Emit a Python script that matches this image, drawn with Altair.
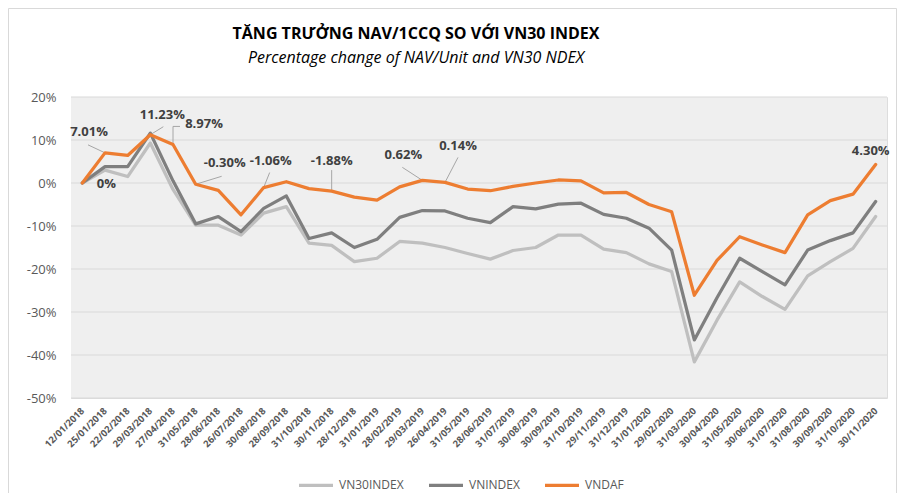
import altair as alt
import pandas as pd

# ---------------- data ----------------
dates = ["12/01/2018", "25/01/2018", "22/02/2018", "29/03/2018", "27/04/2018", "31/05/2018",
         "28/06/2018", "26/07/2018", "30/08/2018", "28/09/2018", "31/10/2018", "30/11/2018",
         "28/12/2018", "31/01/2019", "28/02/2019", "29/03/2019", "26/04/2019", "31/05/2019",
         "28/06/2019", "31/07/2019", "30/08/2019", "30/09/2019", "31/10/2019", "29/11/2019",
         "31/12/2019", "31/01/2020", "29/02/2020", "31/03/2020", "30/04/2020", "31/05/2020",
         "30/06/2020", "31/07/2020", "31/08/2020", "30/09/2020", "31/10/2020", "30/11/2020"]

vn30index = [0, 3.0, 1.5, 9.3, -1.5, -9.8, -9.8, -12.1, -7.0, -5.5, -14.0, -14.5,
             -18.3, -17.5, -13.6, -14.0, -15.0, -16.4, -17.7, -15.7, -15.0, -12.1, -12.1, -15.4,
             -16.2, -18.8, -20.6, -41.6, -31.9, -23.0, -26.4, -29.4, -21.6, -18.3, -15.2, -7.8]

vnindex = [0, 3.8, 3.8, 11.6, 0.5, -9.5, -7.8, -11.3, -5.9, -3.0, -12.9, -11.6,
           -15.0, -13.1, -8.0, -6.4, -6.5, -8.2, -9.2, -5.5, -6.0, -4.9, -4.7, -7.3,
           -8.2, -10.5, -15.6, -36.5, -26.7, -17.5, -20.6, -23.7, -15.6, -13.4, -11.6, -4.3]

vndaf = [0, 7.01, 6.4, 11.23, 8.97, -0.30, -1.7, -7.4, -1.06, 0.3, -1.3, -1.88,
         -3.3, -4.0, -0.9, 0.62, 0.14, -1.4, -1.8, -0.8, 0.0, 0.7, 0.5, -2.3,
         -2.2, -5.0, -6.7, -26.1, -18.0, -12.5, -14.4, -16.2, -7.4, -4.1, -2.6, 4.30]

series_names = ["VN30INDEX", "VNINDEX", "VNDAF"]
series_colors = ["#bfbfbf", "#7f7f7f", "#ed7d31"]
series_widths = [3.25, 3.25, 4]

label_idx = [0, 1, 3, 4, 5, 8, 11, 15, 16, 35]
label_txt = ["0%", "7.01%", "11.23%", "8.97%", "-0.30%", "-1.06%", "-1.88%", "0.62%", "0.14%", "4.30%"]

y_ticks = [20, 10, 0, -10, -20, -30, -40, -50]

title_text = "TĂNG TRƯỞNG NAV/1CCQ SO VỚI VN30 INDEX"
subtitle_text = "Percentage change of NAV/Unit and VN30 NDEX"

# ---------------- style ----------------
W, H = 816, 301
n = len(dates)
YMIN, YMAX = -50, 20
PX_X = W / n
PX_Y = H / (YMAX - YMIN)
FONT = "Open Sans"

LABEL_OFFSET = {0: (24, 1), 1: (-16, -21), 3: (12, -20), 4: (31, -20), 5: (29, -21),
                8: (7, -27), 11: (0, -30), 15: (-19, -25), 16: (13, -36), 35: (-5, -14)}
LEADERS = {1: [(0, 0, -17, -8)], 3: [(0, 0, 13, -8)], 4: [(0, 0, 0, -18), (0, -18, 7, -18)],
           5: [(0, 0, 26, -8)], 8: [(0, 0, 6, -15)], 11: [(0, 0, 0, -21)],
           15: [(0, 0, -20, -13)], 16: [(0, 0, 13, -25)]}

# ---------------- frames ----------------
rows = []
for s, vals in zip(series_names, [vn30index, vnindex, vndaf]):
    for i, (d, v) in enumerate(zip(dates, vals)):
        rows.append({"idx": i, "date": d, "series": s, "value": v})
df = pd.DataFrame(rows)

xscale = alt.Scale(domain=[-0.5, n - 0.5], nice=False, zero=False)
yscale = alt.Scale(domain=[YMIN, YMAX], nice=False, zero=False)

label_expr = "[" + ",".join("'" + d + "'" for d in dates) + "][datum.value]"

x_axis = alt.Axis(values=list(range(n)), labelExpr=label_expr, labelAngle=-45,
                  labelAlign="right", labelBaseline="middle", labelPadding=11,
                  labelFontSize=9.5, labelFontWeight="bold", labelColor="#595959",
                  labelFont=FONT, labelOverlap=False, labelFlush=False,
                  grid=False, ticks=False, domain=False, title=None)
y_axis = alt.Axis(values=y_ticks, labelExpr="datum.value + '%'", labelFontSize=13,
                  labelColor="#595959", labelFont=FONT, labelPadding=15,
                  grid=False, ticks=False, domain=False, title=None)


def X(field):
    return alt.X(field, scale=xscale, axis=x_axis, title=None)


def Y(field):
    return alt.Y(field, scale=yscale, axis=y_axis, title=None)


one = pd.DataFrame({"x0": [-0.5], "x1": [n - 0.5], "y0": [YMIN], "y1": [YMAX]})

frame = alt.Chart(one).mark_rect(filled=False, stroke="#d9d9d9", strokeWidth=1).encode(
    x=alt.value(-62.5), x2=alt.value(825.5), y=alt.value(-88.5), y2=alt.value(430))

background = alt.Chart(one).mark_rect(fill="#efefef").encode(
    x=X("x0:Q"), x2="x1:Q", y=Y("y0:Q"), y2="y1:Q")

grid_df = pd.DataFrame({"y": y_ticks, "x0": -0.5, "x1": n - 0.5})
grid = alt.Chart(grid_df).mark_rule(color="#d9d9d9", strokeWidth=1).encode(
    x=X("x0:Q"), x2="x1:Q", y=Y("y:Q"))

lead_rows = []
for i, segs in LEADERS.items():
    for (ax, ay, bx, by) in segs:
        lead_rows.append({"x": i + ax / PX_X, "y": vndaf[i] - ay / PX_Y,
                          "x2": i + bx / PX_X, "y2": vndaf[i] - by / PX_Y})
leaders = alt.Chart(pd.DataFrame(lead_rows)).mark_rule(color="#a6a6a6", strokeWidth=1).encode(
    x=X("x:Q"), x2="x2:Q", y=Y("y:Q"), y2="y2:Q")

lines = alt.Chart(df).mark_line(strokeJoin="round", strokeCap="round").encode(
    x=X("idx:Q"),
    y=Y("value:Q"),
    color=alt.Color("series:N", scale=alt.Scale(domain=series_names, range=series_colors),
                    sort=series_names, title=None,
                    legend=alt.Legend(orient="none", legendX=226, legendY=369, direction="horizontal",
                                      symbolType="stroke", symbolSize=1156, symbolStrokeWidth=4,
                                      labelFont=FONT, labelFontSize=12, labelColor="#595959",
                                      columnPadding=18, labelOffset=4)),
    strokeWidth=alt.StrokeWidth("series:N", scale=alt.Scale(domain=series_names, range=series_widths),
                                legend=None),
    detail="series:N",
)

lab_df = pd.DataFrame({"idx": label_idx, "value": [vndaf[i] for i in label_idx], "text": label_txt})
label_layers = []
for i, t in zip(label_idx, label_txt):
    dx, dy = LABEL_OFFSET[i]
    label_layers.append(
        alt.Chart(lab_df).transform_filter(alt.datum.idx == i).mark_text(
            dx=dx, dy=dy, font=FONT, fontSize=13, fontWeight="bold", color="#404040",
            align="center", baseline="middle").encode(
            x=X("idx:Q"), y=Y("value:Q"), text="text:N"))

title_df = pd.DataFrame({"t": [title_text], "s": [subtitle_text]})
title_mark = alt.Chart(title_df).mark_text(font=FONT, fontSize=16, fontWeight="bold", color="#000000",
                                           align="center", baseline="alphabetic").encode(
    x=alt.value(345), y=alt.value(-58), text="t:N")
subtitle_mark = alt.Chart(title_df).mark_text(font=FONT, fontSize=16, fontStyle="italic", color="#000000",
                                              align="center", baseline="alphabetic").encode(
    x=alt.value(345), y=alt.value(-34), text="s:N")

chart = alt.layer(frame, background, grid, leaders, lines, *label_layers,
                  title_mark, subtitle_mark).properties(
    width=W, height=H,
    autosize=alt.AutoSizeParams(type="none"),
    padding={"left": 63, "top": 89, "right": 10, "bottom": 95},
).configure_view(stroke=None).configure(background="white")

chart.save("out.html", embed_options={"renderer": "svg", "actions": False})
